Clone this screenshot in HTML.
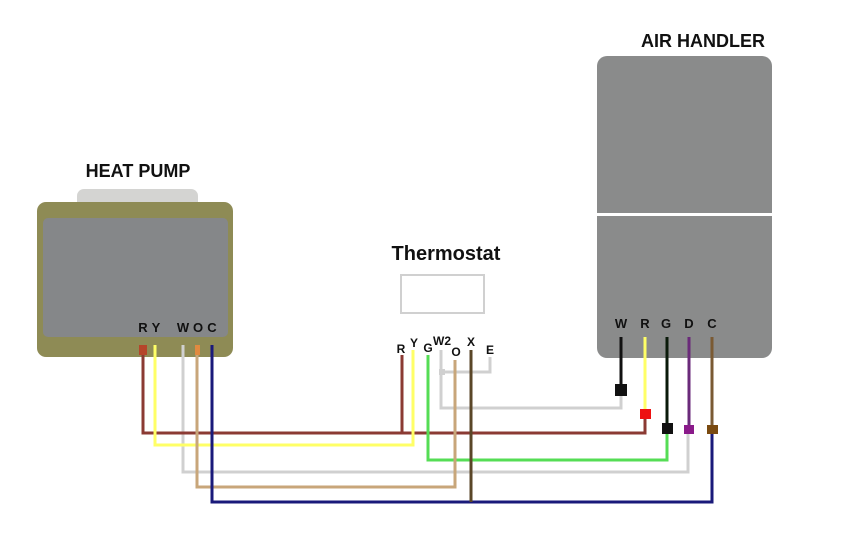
<!DOCTYPE html>
<html><head><style>html,body{margin:0;padding:0;background:#fff}svg{display:block}</style></head>
<body>
<svg width="852" height="538" viewBox="0 0 852 538" xmlns="http://www.w3.org/2000/svg" font-family="Liberation Sans, sans-serif" font-weight="bold">
<!-- Heat pump -->
<text x="138" y="177" font-size="18" text-anchor="middle" fill="#111">HEAT PUMP</text>
<rect x="77" y="189" width="121" height="22" rx="7" fill="#d4d4d2"/>
<rect x="37" y="202" width="196" height="155" rx="9" fill="#8e8b55"/>
<rect x="43" y="218" width="185" height="119" rx="5" fill="#858789"/>
<g font-size="13" fill="#111" text-anchor="middle">
<text x="143" y="332">R</text><text x="156" y="332">Y</text>
<text x="183" y="332">W</text><text x="198" y="332">O</text><text x="212" y="332">C</text>
</g>
<!-- Air handler -->
<text x="703" y="47" font-size="18" text-anchor="middle" fill="#111">AIR HANDLER</text>
<rect x="597" y="56" width="175" height="302" rx="10" fill="#8a8b8b"/>
<rect x="597" y="213" width="175" height="3" fill="#fff"/>
<g font-size="13" fill="#111" text-anchor="middle">
<text x="621" y="328">W</text><text x="645" y="328">R</text><text x="666" y="328">G</text><text x="689" y="328">D</text><text x="712" y="328">C</text>
</g>
<!-- Thermostat -->
<text x="446" y="260" font-size="20" text-anchor="middle" fill="#111">Thermostat</text>
<rect x="401" y="275" width="83" height="38" fill="#fff" stroke="#d0d0d0" stroke-width="2"/>
<g font-size="12" fill="#111" text-anchor="middle">
<text x="401" y="353">R</text><text x="414" y="347">Y</text><text x="428" y="352">G</text>
<text x="442" y="345">W2</text><text x="456" y="356">O</text><text x="471" y="346">X</text><text x="490" y="354">E</text>
</g>
<g fill="none" stroke-width="3">
<path d="M441 350 V408 H621 V390" stroke="#d0d0d0"/>
<path d="M441 372 H490 V357" stroke="#d0d0d0"/>
<path d="M183 345 V472 H688 V430" stroke="#d0d0d0"/>
<path d="M143 345 V433 H645 V414" stroke="#8b3a33"/>
<path d="M402 355 V433" stroke="#8b3a33"/>
<path d="M155 345 V445 H413 V350" stroke="#ffff66"/>
<path d="M428 355 V460 H667 V428" stroke="#55dd55"/>
<path d="M197 345 V487 H455 V360" stroke="#c8a67a"/>
<path d="M212 345 V502 H712 V430" stroke="#1a1a7a"/>
<path d="M471 350 V502" stroke="#5a4628"/>
<path d="M621 337 V390" stroke="#111"/>
<path d="M645 337 V414" stroke="#ffff66"/>
<path d="M667 337 V428" stroke="#0a1a0a"/>
<path d="M689 337 V430" stroke="#6a2a7a"/>
<path d="M712 337 V430" stroke="#7a5a33"/>
</g>
<rect x="139" y="345" width="8" height="10" fill="#b5452a"/>
<rect x="195" y="345" width="5" height="10" fill="#e08a40"/>
<rect x="439" y="369" width="6" height="6" fill="#d0d0d0"/>
<rect x="615" y="384" width="12" height="12" fill="#111"/>
<rect x="640" y="409" width="11" height="10" fill="#ee1111"/>
<rect x="662" y="423" width="11" height="11" fill="#111"/>
<rect x="684" y="425" width="10" height="9" fill="#8a1a8a"/>
<rect x="707" y="425" width="11" height="9" fill="#7a4a10"/>
</svg>
</body></html>
